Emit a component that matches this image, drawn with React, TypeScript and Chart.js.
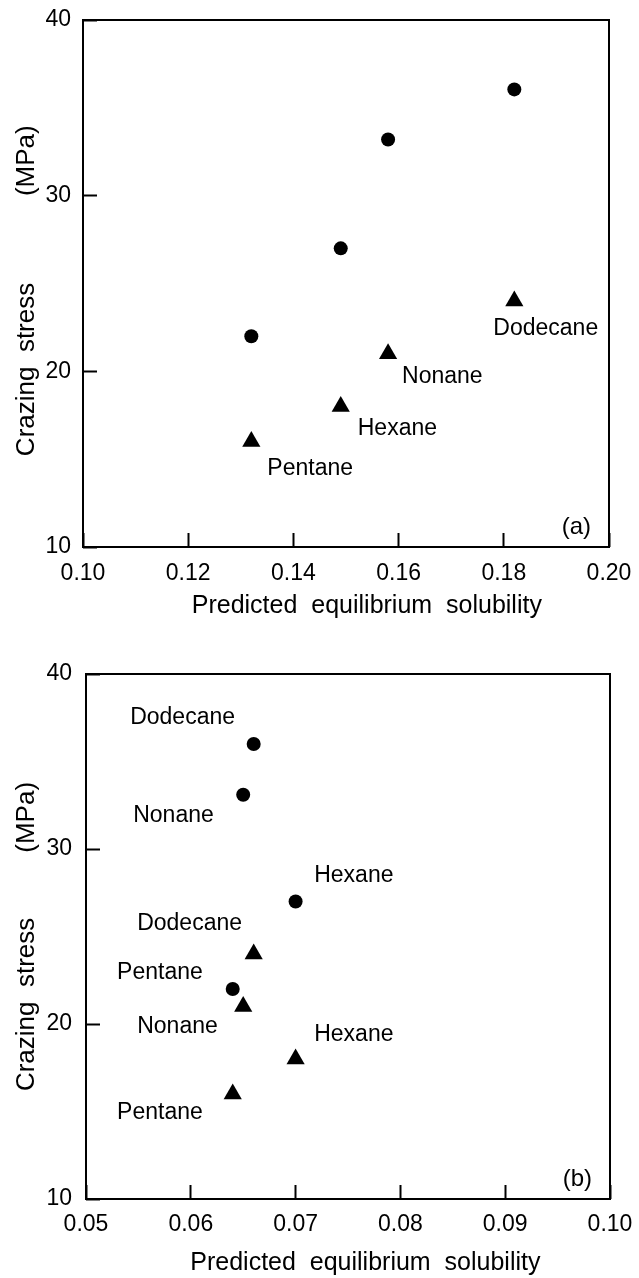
import React, { useEffect, useRef } from 'react';
import { Chart, registerables } from 'chart.js';

Chart.register(...registerables);

const FONT = "'Liberation Sans', Arial, sans-serif";

// ---------- data ----------
const SOLVENTS = ['Pentane', 'Hexane', 'Nonane', 'Dodecane'];

// panel (a)
const X_TICKS_A = [0.1, 0.12, 0.14, 0.16, 0.18, 0.2];
const SOLUBILITY_A = [0.132, 0.149, 0.158, 0.182];
const CIRCLE_STRESS_A = [22, 27, 33.2, 36.05];
const TRIANGLE_STRESS_A = [16, 18, 21, 24];

// panel (b)
const X_TICKS_B = [0.05, 0.06, 0.07, 0.08, 0.09, 0.1];
const SOLUBILITY_B = [0.064, 0.07, 0.065, 0.066];
const CIRCLE_STRESS_B = [22, 27, 33.1, 36];
const TRIANGLE_STRESS_B = [16, 18, 21, 24];

const Y_TICKS = [10, 20, 30, 40];

// ---------- label placement (pixel offsets from the point: left edge, vertical centre) ----------
const OFFSETS_A_TRI = [[16, 27], [17, 22], [14, 22.5], [-21, 28]];
const OFFSETS_B_CIR = [[-115.6, -16], [18.6, -25.5], [-110, 21], [-123.5, -26]];
const OFFSETS_B_TRI = [[-115.6, 19], [18.6, -24], [-106, 20.5], [-116.5, -30]];

const framePlugin = {
  id: 'frame',
  afterDatasetsDraw(chart: any, _args: any, opts: any) {
    const { ctx, chartArea: a } = chart;
    ctx.save();
    ctx.strokeStyle = '#000';
    ctx.lineWidth = 2;
    ctx.strokeRect(a.left, a.top, a.right - a.left, a.bottom - a.top);
    ctx.fillStyle = '#000';
    ctx.font = `23px ${FONT}`;
    ctx.textBaseline = 'middle';
    ctx.textAlign = 'left';
    for (const g of opts.groups) {
      g.names.forEach((n: string, i: number) => {
        const x = chart.scales.x.getPixelForValue(g.xs[i]);
        const y = chart.scales.y.getPixelForValue(g.ys[i]);
        ctx.fillText(n, x + g.offsets[i][0], y + g.offsets[i][1]);
      });
    }
    ctx.font = `24px ${FONT}`;
    ctx.textAlign = 'right';
    ctx.fillText(opts.panel, a.right - 18, a.bottom - 20);
    ctx.restore();
  },
};

interface PanelCfg {
  xTicks: number[];
  xs: number[];
  circles: number[];
  triangles: number[];
  groups: any[];
  panel: string;
  top: number;
  right: number;
  yWidth: number;
  xHeight: number;
  xTickPad: number;
  yTickPad: number;
  xTitle: string;
  yTitle: string;
  xTitlePad: number;
}

function zeroPadding(s: any) {
  s.paddingLeft = 0;
  s.paddingRight = 0;
  s.paddingTop = 0;
  s.paddingBottom = 0;
}

function buildConfig(c: PanelCfg): any {
  return {
    type: 'scatter',
    data: {
      datasets: [
        {
          data: c.xs.map((x, i) => ({ x, y: c.circles[i] })),
          pointStyle: 'circle',
          pointRadius: 7,
          backgroundColor: '#000',
          borderColor: '#000',
          borderWidth: 0,
        },
        {
          data: c.xs.map((x, i) => ({ x, y: c.triangles[i] })),
          pointStyle: 'triangle',
          pointRadius: 10.5,
          backgroundColor: '#000',
          borderColor: '#000',
          borderWidth: 0,
        },
      ],
    },
    options: {
      animation: false,
      responsive: false,
      events: [],
      layout: { padding: { top: c.top, right: c.right, left: 0, bottom: 0 } },
      plugins: {
        legend: { display: false },
        tooltip: { enabled: false },
        frame: { groups: c.groups, panel: c.panel },
      },
      scales: {
        x: {
          type: 'linear',
          min: c.xTicks[0],
          max: c.xTicks[c.xTicks.length - 1],
          afterBuildTicks: (s: any) => {
            s.ticks = c.xTicks.map((v) => ({ value: v }));
          },
          afterFit: (s: any) => {
            s.height = c.xHeight;
            zeroPadding(s);
          },
          border: { display: false },
          grid: {
            display: true,
            drawOnChartArea: false,
            drawTicks: true,
            tickLength: -14,
            tickWidth: 2,
            tickColor: '#000',
            color: '#000',
          },
          ticks: {
            autoSkip: false,
            maxRotation: 0,
            padding: c.xTickPad,
            color: '#000',
            font: { family: FONT, size: 23 },
            callback: (v: any) => Number(v).toFixed(2),
          },
          title: {
            display: true,
            text: c.xTitle,
            color: '#000',
            font: { family: FONT, size: 25, lineHeight: 1 },
            padding: { top: 0, bottom: c.xTitlePad },
          },
        },
        y: {
          type: 'linear',
          min: Y_TICKS[0],
          max: Y_TICKS[Y_TICKS.length - 1],
          afterBuildTicks: (s: any) => {
            s.ticks = Y_TICKS.map((v) => ({ value: v }));
          },
          afterFit: (s: any) => {
            s.width = c.yWidth;
            zeroPadding(s);
          },
          border: { display: false },
          grid: {
            display: true,
            drawOnChartArea: false,
            drawTicks: true,
            tickLength: -14,
            tickWidth: 2,
            tickColor: '#000',
            color: '#000',
          },
          ticks: {
            autoSkip: false,
            padding: c.yTickPad,
            color: '#000',
            font: { family: FONT, size: 23 },
            callback: (v: any) => String(v),
          },
          title: {
            display: true,
            text: c.yTitle,
            color: '#000',
            font: { family: FONT, size: 26, lineHeight: 1 },
            padding: { top: 14, bottom: 0 },
          },
        },
      },
    },
    plugins: [framePlugin],
  };
}

const PANEL_A: PanelCfg = {
  xTicks: X_TICKS_A,
  xs: SOLUBILITY_A,
  circles: CIRCLE_STRESS_A,
  triangles: TRIANGLE_STRESS_A,
  groups: [{ names: SOLVENTS, xs: SOLUBILITY_A, ys: TRIANGLE_STRESS_A, offsets: OFFSETS_A_TRI }],
  panel: '(a)',
  top: 20,
  right: 30,
  yWidth: 83,
  xHeight: 92,
  xTickPad: 27,
  yTickPad: 26,
  xTitle: '      Predicted  equilibrium  solubility',
  yTitle: 'Crazing  stress            (MPa)  ',
  xTitlePad: 20.5,
};

const PANEL_B: PanelCfg = {
  xTicks: X_TICKS_B,
  xs: SOLUBILITY_B,
  circles: CIRCLE_STRESS_B,
  triangles: TRIANGLE_STRESS_B,
  groups: [
    { names: SOLVENTS, xs: SOLUBILITY_B, ys: CIRCLE_STRESS_B, offsets: OFFSETS_B_CIR },
    { names: SOLVENTS, xs: SOLUBILITY_B, ys: TRIANGLE_STRESS_B, offsets: OFFSETS_B_TRI },
  ],
  panel: '(b)',
  top: 35,
  right: 29,
  yWidth: 86,
  xHeight: 79,
  xTickPad: 26,
  yTickPad: 28,
  xTitle: '     Predicted  equilibrium  solubility',
  yTitle: 'Crazing  stress         (MPa)',
  xTitlePad: 2,
};

function Panel({ cfg }: { cfg: PanelCfg }) {
  const ref = useRef<HTMLCanvasElement | null>(null);
  useEffect(() => {
    if (!ref.current) return;
    const chart = new Chart(ref.current, buildConfig(cfg));
    return () => chart.destroy();
  }, [cfg]);
  return <canvas ref={ref} width={639} height={639} style={{ display: 'block', width: 639, height: 639 }} />;
}

export default function App() {
  return (
    <div style={{ position: 'absolute', left: 0, top: 0, width: 639, height: 1278, background: '#fff' }}>
      <Panel cfg={PANEL_A} />
      <Panel cfg={PANEL_B} />
    </div>
  );
}
